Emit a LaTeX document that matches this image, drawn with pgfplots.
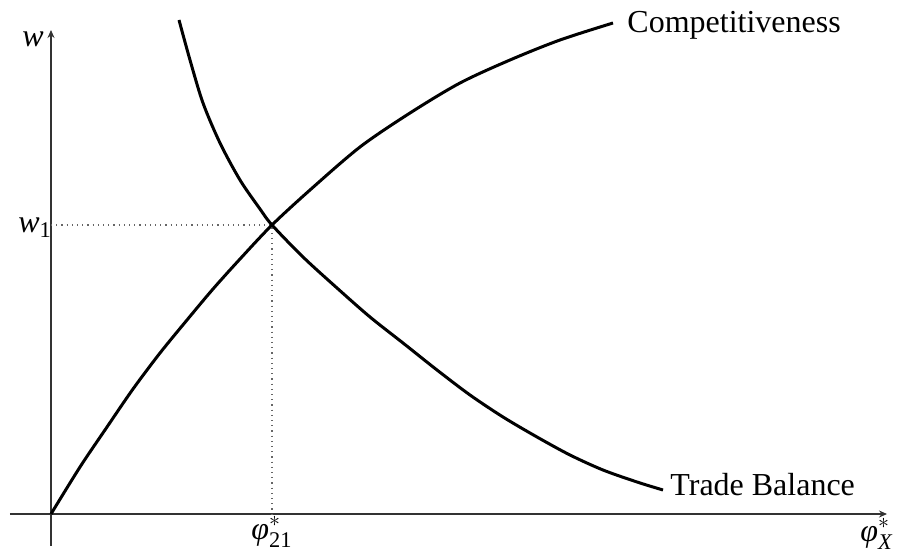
\documentclass[border=0pt]{standalone}
\usepackage{amsmath}
\usepackage{fontspec}
\setmainfont{Liberation Serif}
\usepackage{pgfplots}
\pgfplotsset{compat=1.18}
\usetikzlibrary{arrows.meta}

% curves (x right of origin, y above origin)
\pgfplotstableread{
x y
0 0
29 47
56 87
82 125
109 161
136 194
162 225
189 255
221 289
259 324
309 367
359 401
409 431
459 454
509 474
562 491
}\competitiveness
\pgfplotstableread{
x y
128 494
139 454
152 411
169 371
189 334
209 305
221 289
252 257
286 226
319 197
352 171
386 144
419 119
452 97
486 77
519 59
552 44
586 32
612 24
}\tradebalance

\newcommand{\vphi}{\text{\itshape φ}}

\begin{document}
\begin{tikzpicture}[font=\fontsize{16}{19}\selectfont]
\begin{axis}[
    x=0.5pt, y=0.5pt,
    xmin=-41, xmax=836, ymin=-32, ymax=484,
    axis lines=middle,
    axis line style={black!80, line width=0.6pt, -{Stealth[length=4pt,width=3.5pt]}},
    xtick=\empty, ytick=\empty,
    clip=false,
]
% guide lines to the equilibrium
\addplot[black!60, dotted, line width=0.6pt] coordinates {(0,289) (221,289) (221,0)};
\addplot[black, line width=1.5pt, smooth] table {\competitiveness};
\addplot[black, line width=1.5pt, smooth] table {\tradebalance};

\node[anchor=base west, inner sep=0] at (axis cs:576,481) {Competitiveness};
\node[anchor=base west, inner sep=0] at (axis cs:619,19) {Trade Balance};
\node[anchor=base west, inner sep=0] at (axis cs:-29,467) {$\text{\itshape w}$};
\node[anchor=base west, inner sep=0] at (axis cs:-33,282) {$\text{\itshape w}_{\text{1}}$};
\node[anchor=north, inner sep=0] at (axis cs:221,-2) {$\vphi^{*}_{\text{21}}$};
\node[anchor=north west, inner sep=0] at (axis cs:809,-4) {$\vphi^{*}_{\text{\itshape X}}$};

\coordinate (bl) at (axis cs:-51,-38);
\coordinate (tr) at (axis cs:847,514);
\end{axis}
\pgfresetboundingbox
\path[use as bounding box] (bl) rectangle (tr);
\end{tikzpicture}
\end{document}
